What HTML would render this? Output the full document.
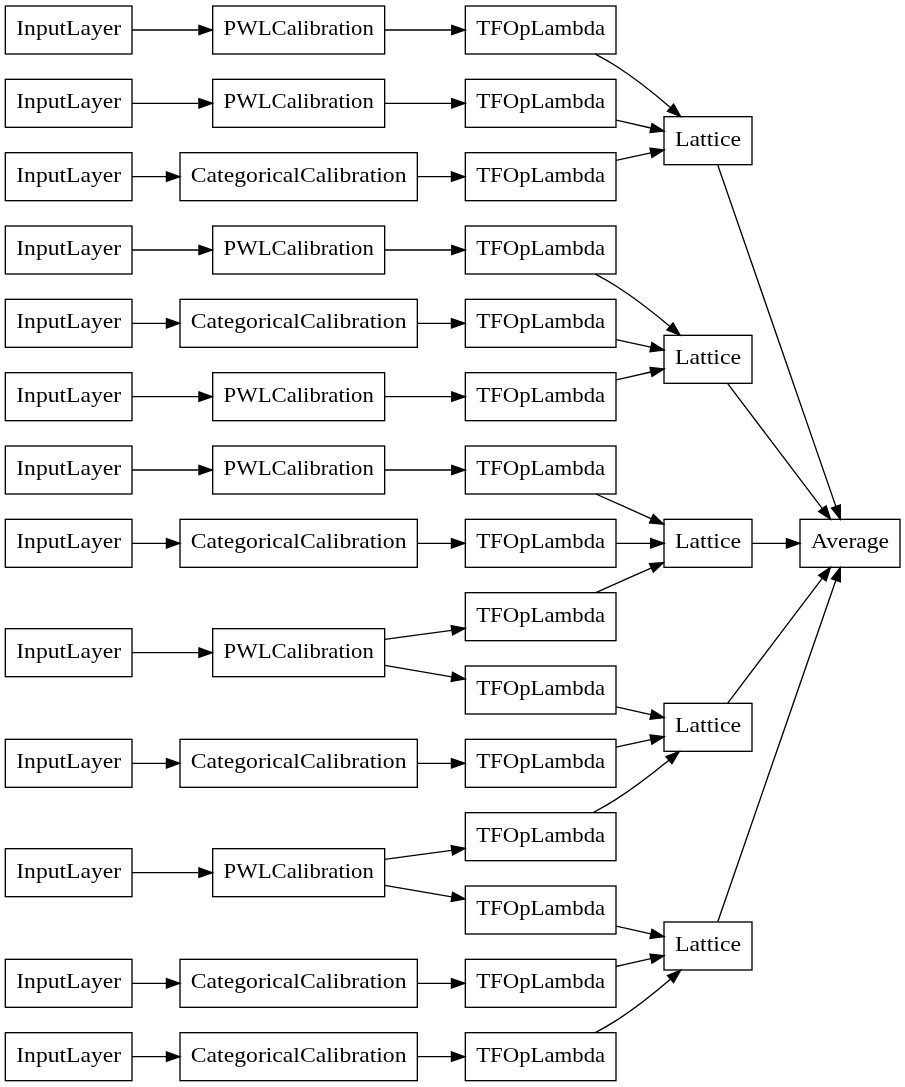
<!DOCTYPE html>
<html><head><meta charset="utf-8"><style>
html,body{margin:0;padding:0;background:#fff;width:905px;height:1087px;overflow:hidden}
svg{display:block;will-change:transform}
.n rect{fill:none;stroke:#000;stroke-width:1}
.n text{font-family:"Liberation Serif",serif;font-size:15.6px;text-anchor:middle;fill:#000}
.e path{fill:none;stroke:#000;stroke-width:1}
.e polygon{fill:#000;stroke:#000;stroke-width:1}
</style></head><body>
<svg width="905" height="1087">
<rect x="0" y="0" width="905" height="1087" fill="#fff"/>
<g transform="scale(1.333333) translate(4 811)">
<g class="e">
<path d="M95.09,-788.50C110.44,-788.50 127.91,-788.50 144.80,-788.50"/><polygon points="145.21,-792.00 155.21,-788.50 145.21,-785.00 145.21,-792.00"/>
<path d="M284.54,-788.50C300.82,-788.50 318.37,-788.50 334.77,-788.50"/><polygon points="334.80,-792.00 344.80,-788.50 334.80,-785.00 334.80,-792.00"/>
<path d="M442.54,-770.44C447.85,-767.64 453.13,-764.63 458.00,-761.50 472.12,-752.44 486.62,-740.86 498.59,-730.59"/><polygon points="501.20,-732.94 506.43,-723.73 496.60,-727.67 501.20,-732.94"/>
<path d="M95.09,-733.50C110.44,-733.50 127.91,-733.50 144.80,-733.50"/><polygon points="145.21,-737.00 155.21,-733.50 145.21,-730.00 145.21,-737.00"/>
<path d="M284.54,-733.50C300.82,-733.50 318.37,-733.50 334.77,-733.50"/><polygon points="334.80,-737.00 344.80,-733.50 334.80,-730.00 334.80,-737.00"/>
<path d="M458.11,-720.89C466.85,-718.91 475.75,-716.89 484.11,-715.00"/><polygon points="485.02,-718.38 493.99,-712.76 483.47,-711.55 485.02,-718.38"/>
<path d="M95.09,-678.50C103.18,-678.50 111.87,-678.50 120.75,-678.50"/><polygon points="120.83,-682.00 130.83,-678.50 120.83,-675.00 120.83,-682.00"/>
<path d="M309.17,-678.50C317.65,-678.50 326.15,-678.50 334.36,-678.50"/><polygon points="334.59,-682.00 344.59,-678.50 334.59,-675.00 334.59,-682.00"/>
<path d="M458.11,-690.66C466.85,-692.57 475.75,-694.51 484.11,-696.34"/><polygon points="483.48,-699.79 493.99,-698.50 484.97,-692.95 483.48,-699.79"/>
<path d="M95.09,-623.50C110.44,-623.50 127.91,-623.50 144.80,-623.50"/><polygon points="145.21,-627.00 155.21,-623.50 145.21,-620.00 145.21,-627.00"/>
<path d="M284.54,-623.50C300.82,-623.50 318.37,-623.50 334.77,-623.50"/><polygon points="334.80,-627.00 344.80,-623.50 334.80,-620.00 334.80,-627.00"/>
<path d="M442.51,-605.40C447.83,-602.60 453.12,-599.61 458.00,-596.50 471.95,-587.63 486.33,-576.36 498.26,-566.33"/><polygon points="500.76,-568.79 506.09,-559.63 496.21,-563.47 500.76,-568.79"/>
<path d="M95.09,-568.50C103.18,-568.50 111.87,-568.50 120.75,-568.50"/><polygon points="120.83,-572.00 130.83,-568.50 120.83,-565.00 120.83,-572.00"/>
<path d="M309.17,-568.50C317.65,-568.50 326.15,-568.50 334.36,-568.50"/><polygon points="334.59,-572.00 344.59,-568.50 334.59,-565.00 334.59,-572.00"/>
<path d="M458.11,-556.34C466.85,-554.43 475.75,-552.49 484.11,-550.66"/><polygon points="484.97,-554.05 493.99,-548.50 483.48,-547.21 484.97,-554.05"/>
<path d="M95.09,-513.50C110.44,-513.50 127.91,-513.50 144.80,-513.50"/><polygon points="145.21,-517.00 155.21,-513.50 145.21,-510.00 145.21,-517.00"/>
<path d="M284.54,-513.50C300.82,-513.50 318.37,-513.50 334.77,-513.50"/><polygon points="334.80,-517.00 344.80,-513.50 334.80,-510.00 334.80,-517.00"/>
<path d="M458.11,-526.11C466.85,-528.09 475.75,-530.11 484.11,-532.00"/><polygon points="483.47,-535.45 493.99,-534.24 485.02,-528.62 483.47,-535.45"/>
<path d="M95.09,-458.50C110.44,-458.50 127.91,-458.50 144.80,-458.50"/><polygon points="145.21,-462.00 155.21,-458.50 145.21,-455.00 145.21,-462.00"/>
<path d="M284.54,-458.50C300.82,-458.50 318.37,-458.50 334.77,-458.50"/><polygon points="334.80,-462.00 344.80,-458.50 334.80,-455.00 334.80,-462.00"/>
<path d="M442.94,-440.49C456.18,-434.59 470.92,-428.03 484.26,-422.09"/><polygon points="485.98,-425.16 493.69,-417.89 483.13,-418.76 485.98,-425.16"/>
<path d="M95.09,-403.50C103.18,-403.50 111.87,-403.50 120.75,-403.50"/><polygon points="120.83,-407.00 130.83,-403.50 120.83,-400.00 120.83,-407.00"/>
<path d="M309.17,-403.50C317.65,-403.50 326.15,-403.50 334.36,-403.50"/><polygon points="334.59,-407.00 344.59,-403.50 334.59,-400.00 334.59,-407.00"/>
<path d="M458.11,-403.50C466.75,-403.50 475.56,-403.50 483.84,-403.50"/><polygon points="483.99,-407.00 493.99,-403.50 483.99,-400.00 483.99,-407.00"/>
<path d="M95.09,-321.50C110.44,-321.50 127.91,-321.50 144.80,-321.50"/><polygon points="145.21,-325.00 155.21,-321.50 145.21,-318.00 145.21,-325.00"/>
<path d="M284.54,-331.41C300.82,-333.62 318.37,-336.02 334.77,-338.25"/><polygon points="334.38,-341.73 344.80,-339.81 335.46,-334.81 334.38,-341.73"/>
<path d="M284.54,-311.94C300.82,-309.16 318.37,-306.18 334.77,-303.39"/><polygon points="335.44,-306.83 344.80,-301.88 334.39,-299.90 335.44,-306.83"/>
<path d="M442.94,-366.51C456.18,-372.41 470.92,-378.97 484.26,-384.91"/><polygon points="483.13,-388.24 493.69,-389.11 485.98,-381.84 483.13,-388.24"/>
<path d="M458.11,-280.89C466.85,-278.91 475.75,-276.89 484.11,-275.00"/><polygon points="485.02,-278.38 493.99,-272.76 483.47,-271.55 485.02,-278.38"/>
<path d="M95.09,-238.50C103.18,-238.50 111.87,-238.50 120.75,-238.50"/><polygon points="120.83,-242.00 130.83,-238.50 120.83,-235.00 120.83,-242.00"/>
<path d="M309.17,-238.50C317.65,-238.50 326.15,-238.50 334.36,-238.50"/><polygon points="334.59,-242.00 344.59,-238.50 334.59,-235.00 334.59,-242.00"/>
<path d="M458.11,-250.66C466.85,-252.57 475.75,-254.51 484.11,-256.34"/><polygon points="483.48,-259.79 493.99,-258.50 484.97,-252.95 483.48,-259.79"/>
<path d="M95.09,-156.50C110.44,-156.50 127.91,-156.50 144.80,-156.50"/><polygon points="145.21,-160.00 155.21,-156.50 145.21,-153.00 145.21,-160.00"/>
<path d="M284.54,-166.41C300.82,-168.62 318.37,-171.02 334.77,-173.25"/><polygon points="334.38,-176.73 344.80,-174.81 335.46,-169.81 334.38,-176.73"/>
<path d="M284.54,-146.94C300.82,-144.16 318.37,-141.18 334.77,-138.39"/><polygon points="335.44,-141.83 344.80,-136.88 334.39,-134.90 335.44,-141.83"/>
<path d="M440.99,-201.63C446.80,-204.73 452.64,-208.07 458.00,-211.50 471.62,-220.21 485.76,-231.10 497.60,-240.82"/><polygon points="495.47,-243.60 505.39,-247.31 499.95,-238.22 495.47,-243.60"/>
<path d="M458.11,-116.34C466.85,-114.43 475.75,-112.49 484.11,-110.66"/><polygon points="484.97,-114.05 493.99,-108.50 483.48,-107.21 484.97,-114.05"/>
<path d="M95.09,-73.50C103.18,-73.50 111.87,-73.50 120.75,-73.50"/><polygon points="120.83,-77.00 130.83,-73.50 120.83,-70.00 120.83,-77.00"/>
<path d="M309.17,-73.50C317.65,-73.50 326.15,-73.50 334.36,-73.50"/><polygon points="334.59,-77.00 344.59,-73.50 334.59,-70.00 334.59,-77.00"/>
<path d="M458.11,-86.11C466.85,-88.09 475.75,-90.11 484.11,-92.00"/><polygon points="483.47,-95.45 493.99,-94.24 485.02,-88.62 483.47,-95.45"/>
<path d="M95.09,-18.50C103.18,-18.50 111.87,-18.50 120.75,-18.50"/><polygon points="120.83,-22.00 130.83,-18.50 120.83,-15.00 120.83,-22.00"/>
<path d="M309.17,-18.50C317.65,-18.50 326.15,-18.50 334.36,-18.50"/><polygon points="334.59,-22.00 344.59,-18.50 334.59,-15.00 334.59,-22.00"/>
<path d="M442.54,-36.56C447.85,-39.36 453.13,-42.37 458.00,-45.50 472.12,-54.56 486.62,-66.14 498.59,-76.41"/><polygon points="496.60,-79.33 506.43,-83.27 501.20,-74.06 496.60,-79.33"/>
<path d="M534.38,-687.06C552.06,-635.98 601.75,-492.36 622.84,-431.41"/><polygon points="626.24,-432.29 626.20,-421.70 619.63,-430.00 626.24,-432.29"/>
<path d="M541.66,-523.46C559.81,-499.49 592.00,-456.99 612.78,-429.54"/><polygon points="615.59,-431.63 618.84,-421.55 610.01,-427.40 615.59,-431.63"/>
<path d="M560.21,-403.50C568.31,-403.50 577.17,-403.50 585.83,-403.50"/><polygon points="585.83,-407.00 595.83,-403.50 585.83,-400.00 585.83,-407.00"/>
<path d="M541.66,-283.54C559.81,-307.51 592.00,-350.01 612.78,-377.46"/><polygon points="610.01,-379.60 618.84,-385.45 615.59,-375.37 610.01,-379.60"/>
<path d="M534.38,-119.94C552.06,-171.02 601.75,-314.64 622.84,-375.59"/><polygon points="619.63,-377.00 626.20,-385.30 626.24,-374.71 619.63,-377.00"/>
</g>
<g class="n">
<rect x="0.0" y="-806.5" width="95.0" height="36.0"/>
<text x="47.5" y="-784.80" textLength="78.68" lengthAdjust="spacingAndGlyphs">InputLayer</text>
<rect x="155.5" y="-806.5" width="129.0" height="36.0"/>
<text x="220" y="-784.80" textLength="112.67" lengthAdjust="spacingAndGlyphs">PWLCalibration</text>
<rect x="345.0" y="-806.5" width="113.0" height="36.0"/>
<text x="401.5" y="-784.80" textLength="96.68" lengthAdjust="spacingAndGlyphs">TFOpLambda</text>
<rect x="494.0" y="-723.5" width="66.0" height="36.0"/>
<text x="527" y="-701.80" textLength="49.5" lengthAdjust="spacingAndGlyphs">Lattice</text>
<rect x="0.0" y="-751.5" width="95.0" height="36.0"/>
<text x="47.5" y="-729.80" textLength="78.68" lengthAdjust="spacingAndGlyphs">InputLayer</text>
<rect x="155.5" y="-751.5" width="129.0" height="36.0"/>
<text x="220" y="-729.80" textLength="112.67" lengthAdjust="spacingAndGlyphs">PWLCalibration</text>
<rect x="345.0" y="-751.5" width="113.0" height="36.0"/>
<text x="401.5" y="-729.80" textLength="96.68" lengthAdjust="spacingAndGlyphs">TFOpLambda</text>
<rect x="0.0" y="-696.5" width="95.0" height="36.0"/>
<text x="47.5" y="-674.80" textLength="78.68" lengthAdjust="spacingAndGlyphs">InputLayer</text>
<rect x="131.0" y="-696.5" width="178.0" height="36.0"/>
<text x="220" y="-674.80" textLength="161.76" lengthAdjust="spacingAndGlyphs">CategoricalCalibration</text>
<rect x="345.0" y="-696.5" width="113.0" height="36.0"/>
<text x="401.5" y="-674.80" textLength="96.68" lengthAdjust="spacingAndGlyphs">TFOpLambda</text>
<rect x="0.0" y="-641.5" width="95.0" height="36.0"/>
<text x="47.5" y="-619.80" textLength="78.68" lengthAdjust="spacingAndGlyphs">InputLayer</text>
<rect x="155.5" y="-641.5" width="129.0" height="36.0"/>
<text x="220" y="-619.80" textLength="112.67" lengthAdjust="spacingAndGlyphs">PWLCalibration</text>
<rect x="345.0" y="-641.5" width="113.0" height="36.0"/>
<text x="401.5" y="-619.80" textLength="96.68" lengthAdjust="spacingAndGlyphs">TFOpLambda</text>
<rect x="494.0" y="-559.5" width="66.0" height="36.0"/>
<text x="527" y="-537.80" textLength="49.5" lengthAdjust="spacingAndGlyphs">Lattice</text>
<rect x="0.0" y="-586.5" width="95.0" height="36.0"/>
<text x="47.5" y="-564.80" textLength="78.68" lengthAdjust="spacingAndGlyphs">InputLayer</text>
<rect x="131.0" y="-586.5" width="178.0" height="36.0"/>
<text x="220" y="-564.80" textLength="161.76" lengthAdjust="spacingAndGlyphs">CategoricalCalibration</text>
<rect x="345.0" y="-586.5" width="113.0" height="36.0"/>
<text x="401.5" y="-564.80" textLength="96.68" lengthAdjust="spacingAndGlyphs">TFOpLambda</text>
<rect x="0.0" y="-531.5" width="95.0" height="36.0"/>
<text x="47.5" y="-509.80" textLength="78.68" lengthAdjust="spacingAndGlyphs">InputLayer</text>
<rect x="155.5" y="-531.5" width="129.0" height="36.0"/>
<text x="220" y="-509.80" textLength="112.67" lengthAdjust="spacingAndGlyphs">PWLCalibration</text>
<rect x="345.0" y="-531.5" width="113.0" height="36.0"/>
<text x="401.5" y="-509.80" textLength="96.68" lengthAdjust="spacingAndGlyphs">TFOpLambda</text>
<rect x="0.0" y="-476.5" width="95.0" height="36.0"/>
<text x="47.5" y="-454.80" textLength="78.68" lengthAdjust="spacingAndGlyphs">InputLayer</text>
<rect x="155.5" y="-476.5" width="129.0" height="36.0"/>
<text x="220" y="-454.80" textLength="112.67" lengthAdjust="spacingAndGlyphs">PWLCalibration</text>
<rect x="345.0" y="-476.5" width="113.0" height="36.0"/>
<text x="401.5" y="-454.80" textLength="96.68" lengthAdjust="spacingAndGlyphs">TFOpLambda</text>
<rect x="494.0" y="-421.5" width="66.0" height="36.0"/>
<text x="527" y="-399.80" textLength="49.5" lengthAdjust="spacingAndGlyphs">Lattice</text>
<rect x="0.0" y="-421.5" width="95.0" height="36.0"/>
<text x="47.5" y="-399.80" textLength="78.68" lengthAdjust="spacingAndGlyphs">InputLayer</text>
<rect x="131.0" y="-421.5" width="178.0" height="36.0"/>
<text x="220" y="-399.80" textLength="161.76" lengthAdjust="spacingAndGlyphs">CategoricalCalibration</text>
<rect x="345.0" y="-421.5" width="113.0" height="36.0"/>
<text x="401.5" y="-399.80" textLength="96.68" lengthAdjust="spacingAndGlyphs">TFOpLambda</text>
<rect x="0.0" y="-339.5" width="95.0" height="36.0"/>
<text x="47.5" y="-317.80" textLength="78.68" lengthAdjust="spacingAndGlyphs">InputLayer</text>
<rect x="155.5" y="-339.5" width="129.0" height="36.0"/>
<text x="220" y="-317.80" textLength="112.67" lengthAdjust="spacingAndGlyphs">PWLCalibration</text>
<rect x="345.0" y="-366.5" width="113.0" height="36.0"/>
<text x="401.5" y="-344.80" textLength="96.68" lengthAdjust="spacingAndGlyphs">TFOpLambda</text>
<rect x="345.0" y="-311.5" width="113.0" height="36.0"/>
<text x="401.5" y="-289.80" textLength="96.68" lengthAdjust="spacingAndGlyphs">TFOpLambda</text>
<rect x="494.0" y="-283.5" width="66.0" height="36.0"/>
<text x="527" y="-261.80" textLength="49.5" lengthAdjust="spacingAndGlyphs">Lattice</text>
<rect x="0.0" y="-256.5" width="95.0" height="36.0"/>
<text x="47.5" y="-234.80" textLength="78.68" lengthAdjust="spacingAndGlyphs">InputLayer</text>
<rect x="131.0" y="-256.5" width="178.0" height="36.0"/>
<text x="220" y="-234.80" textLength="161.76" lengthAdjust="spacingAndGlyphs">CategoricalCalibration</text>
<rect x="345.0" y="-256.5" width="113.0" height="36.0"/>
<text x="401.5" y="-234.80" textLength="96.68" lengthAdjust="spacingAndGlyphs">TFOpLambda</text>
<rect x="0.0" y="-174.5" width="95.0" height="36.0"/>
<text x="47.5" y="-152.80" textLength="78.68" lengthAdjust="spacingAndGlyphs">InputLayer</text>
<rect x="155.5" y="-174.5" width="129.0" height="36.0"/>
<text x="220" y="-152.80" textLength="112.67" lengthAdjust="spacingAndGlyphs">PWLCalibration</text>
<rect x="345.0" y="-201.5" width="113.0" height="36.0"/>
<text x="401.5" y="-179.80" textLength="96.68" lengthAdjust="spacingAndGlyphs">TFOpLambda</text>
<rect x="345.0" y="-146.5" width="113.0" height="36.0"/>
<text x="401.5" y="-124.80" textLength="96.68" lengthAdjust="spacingAndGlyphs">TFOpLambda</text>
<rect x="494.0" y="-119.5" width="66.0" height="36.0"/>
<text x="527" y="-97.80" textLength="49.5" lengthAdjust="spacingAndGlyphs">Lattice</text>
<rect x="0.0" y="-91.5" width="95.0" height="36.0"/>
<text x="47.5" y="-69.80" textLength="78.68" lengthAdjust="spacingAndGlyphs">InputLayer</text>
<rect x="131.0" y="-91.5" width="178.0" height="36.0"/>
<text x="220" y="-69.80" textLength="161.76" lengthAdjust="spacingAndGlyphs">CategoricalCalibration</text>
<rect x="345.0" y="-91.5" width="113.0" height="36.0"/>
<text x="401.5" y="-69.80" textLength="96.68" lengthAdjust="spacingAndGlyphs">TFOpLambda</text>
<rect x="0.0" y="-36.5" width="95.0" height="36.0"/>
<text x="47.5" y="-14.80" textLength="78.68" lengthAdjust="spacingAndGlyphs">InputLayer</text>
<rect x="131.0" y="-36.5" width="178.0" height="36.0"/>
<text x="220" y="-14.80" textLength="161.76" lengthAdjust="spacingAndGlyphs">CategoricalCalibration</text>
<rect x="345.0" y="-36.5" width="113.0" height="36.0"/>
<text x="401.5" y="-14.80" textLength="96.68" lengthAdjust="spacingAndGlyphs">TFOpLambda</text>
<rect x="596.0" y="-421.5" width="75.0" height="36.0"/>
<text x="633.5" y="-399.80" textLength="58.59" lengthAdjust="spacingAndGlyphs">Average</text>
</g>
</g>
</svg>
</body></html>
